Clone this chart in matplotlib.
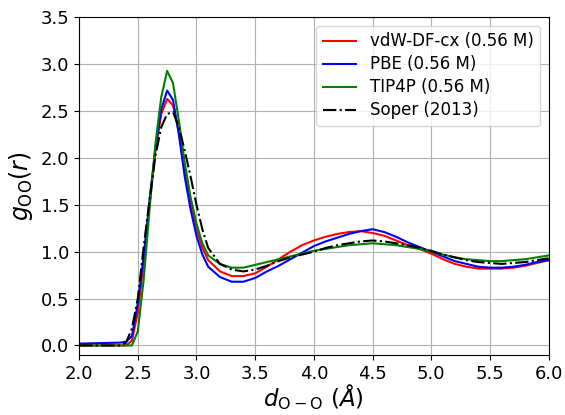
import matplotlib
matplotlib.use("Agg")
import matplotlib.pyplot as plt

# ===== DATA =====
r = [2.00, 2.35, 2.40, 2.45, 2.50, 2.55, 2.60, 2.65, 2.70, 2.75, 2.80, 2.85,
     2.90, 2.95, 3.00, 3.05, 3.10, 3.20, 3.30, 3.40, 3.50, 3.60, 3.70, 3.80,
     3.90, 4.00, 4.10, 4.20, 4.30, 4.40, 4.50, 4.60, 4.70, 4.80, 4.90, 5.00,
     5.10, 5.20, 5.30, 5.40, 5.50, 5.60, 5.70, 5.80, 5.90, 6.00]

g_cx = [0.00, 0.00, 0.00, 0.05, 0.35, 0.88, 1.50, 2.08, 2.47, 2.63, 2.56, 2.28,
        1.88, 1.52, 1.25, 1.04, 0.91, 0.79, 0.74, 0.74, 0.77, 0.84, 0.92, 1.00,
        1.07, 1.12, 1.16, 1.19, 1.21, 1.22, 1.20, 1.17, 1.12, 1.07, 1.03, 0.98,
        0.92, 0.87, 0.84, 0.82, 0.82, 0.82, 0.83, 0.85, 0.88, 0.91]

g_pbe = [0.02, 0.03, 0.04, 0.10, 0.45, 0.95, 1.55, 2.10, 2.52, 2.72, 2.62, 2.25,
         1.80, 1.45, 1.17, 0.97, 0.84, 0.73, 0.68, 0.68, 0.72, 0.79, 0.85, 0.92,
         0.99, 1.06, 1.11, 1.15, 1.19, 1.22, 1.24, 1.21, 1.16, 1.10, 1.05, 1.00,
         0.95, 0.90, 0.87, 0.84, 0.83, 0.83, 0.84, 0.86, 0.89, 0.91]

g_tip4p = [0.00, 0.00, 0.00, 0.00, 0.15, 0.70, 1.45, 2.15, 2.65, 2.93, 2.80, 2.40,
           1.95, 1.58, 1.30, 1.09, 0.96, 0.87, 0.83, 0.83, 0.86, 0.89, 0.92, 0.95,
           0.98, 1.01, 1.03, 1.05, 1.07, 1.08, 1.09, 1.08, 1.07, 1.05, 1.03, 1.00,
           0.97, 0.94, 0.92, 0.91, 0.90, 0.90, 0.91, 0.92, 0.94, 0.96]

g_soper = [0.00, 0.00, 0.03, 0.18, 0.50, 1.05, 1.55, 2.02, 2.33, 2.47, 2.49, 2.33,
           2.08, 1.80, 1.50, 1.24, 1.04, 0.87, 0.81, 0.79, 0.81, 0.85, 0.90, 0.94,
           0.97, 1.00, 1.04, 1.07, 1.09, 1.11, 1.12, 1.11, 1.09, 1.07, 1.04, 1.01,
           0.97, 0.94, 0.91, 0.89, 0.88, 0.87, 0.88, 0.89, 0.91, 0.93]

labels = ["vdW-DF-cx (0.56 M)", "PBE (0.56 M)", "TIP4P (0.56 M)", "Soper (2013)"]
# ================

fig = plt.figure(figsize=(5.65, 4.15), dpi=100)
ax = fig.add_axes([0.140, 0.145, 0.831, 0.813])

ax.plot(r, g_cx, color="red", lw=1.5, label=labels[0])
ax.plot(r, g_pbe, color="blue", lw=1.5, label=labels[1])
ax.plot(r, g_tip4p, color="green", lw=1.5, label=labels[2])
ax.plot(r, g_soper, color="black", lw=1.5, ls="-.", label=labels[3])

ax.set_xlim(2.0, 6.0)
ax.set_ylim(-0.1, 3.5)
ax.set_xticks([2.0, 2.5, 3.0, 3.5, 4.0, 4.5, 5.0, 5.5, 6.0])
ax.set_yticks([0.0, 0.5, 1.0, 1.5, 2.0, 2.5, 3.0, 3.5])
ax.tick_params(labelsize=13)
ax.grid(True)

ax.set_xlabel(r"$d_{\rm O-O}$ ($\AA$)", fontsize=16.5, labelpad=0)
ax.set_ylabel(r"$g_{\rm OO}(r)$", fontsize=17)
ax.legend(loc="upper right", fontsize=12, labelspacing=0.3)

fig.savefig("out.png", dpi=100)
